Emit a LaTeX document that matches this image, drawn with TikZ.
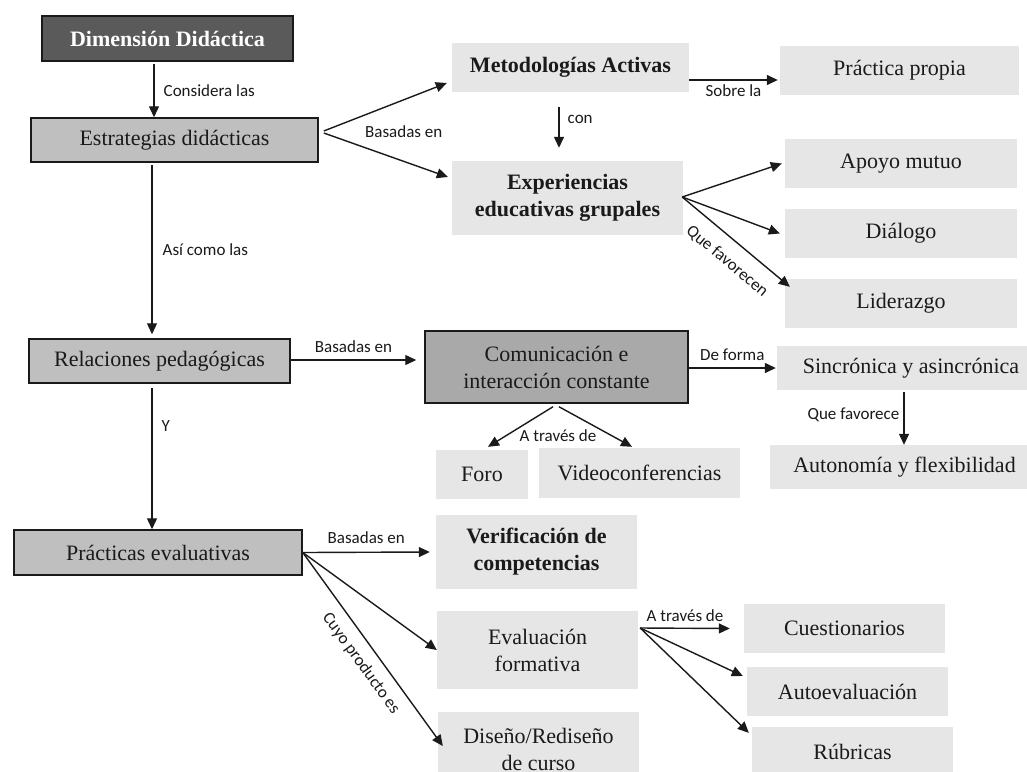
\documentclass[tikz,border=0pt]{standalone}
\usepackage{fontspec}
\setmainfont{Liberation Serif}
\newfontfamily\lblfont{Carlito}
\usetikzlibrary{arrows.meta}
\definecolor{ink}{HTML}{1A1A1A}
\definecolor{boxlight}{HTML}{E6E6E6}
\definecolor{boxmid}{HTML}{BFBFBF}
\definecolor{boxcom}{HTML}{A9A9A9}
\definecolor{boxdark}{HTML}{5A5A5A}
\begin{document}
\begin{tikzpicture}[x=1pt,y=-1pt,
  base/.style={inner sep=0pt, align=center, text=ink, font=\fontsize{22}{27}\selectfont},
  light/.style={base, fill=boxlight},
  framed/.style={base, fill=boxmid, draw=ink, line width=1.5pt},
  conn/.style={draw=ink, line width=1.4pt, -{Triangle[length=11pt,width=10pt]}},
  lbl/.style={font=\lblfont\fontsize{17}{20}\selectfont, text=ink, inner sep=1pt}
]
\useasboundingbox (0,0) rectangle (1027,771);
\clip (0,0) rectangle (1027,771);
\fill[white] (0,0) rectangle (1027,771);

% main column
\node[framed, fill=boxdark, text=white, font=\fontsize{22}{27}\selectfont\bfseries,
      minimum width=251pt, minimum height=45pt] (dim) at (167.5,38.5) {Dimensión Didáctica};
\node[framed, minimum width=287pt, minimum height=44pt] (estr) at (174.5,140) {Estrategias didácticas};
\node[framed, minimum width=261pt, minimum height=44pt] (rel) at (159.5,361) {Relaciones pedagógicas};
\node[framed, minimum width=288pt, minimum height=45pt] (prac) at (158,552.5) {Prácticas evaluativas};

% strategies branch
\node[light, font=\fontsize{22}{27}\selectfont\bfseries, minimum width=237pt, minimum height=49pt] (metod) at (570.5,67.5) {Metodologías Activas};
\node[light, minimum width=239pt, minimum height=49pt] (prop) at (899.5,70.5) {Práctica propia};
\node[light, font=\fontsize{22}{27}\selectfont\bfseries, minimum width=231pt, minimum height=74pt] (exper) at (567.5,198) {Experiencias\\educativas grupales};
\node[light, minimum width=232pt, minimum height=49pt] (apoyo) at (901,163.5) {Apoyo mutuo};
\node[light, minimum width=232pt, minimum height=49pt] (dialogo) at (901,233.5) {Diálogo};
\node[light, minimum width=232pt, minimum height=49pt] (lider) at (901,303.5) {Liderazgo};

% relations branch
\node[framed, fill=boxcom, minimum width=263pt, minimum height=72pt] (com) at (556.5,367) {Comunicación e\\interacción constante};
\node[light, minimum width=268pt, minimum height=44pt] (sinc) at (911,368) {Sincrónica y asincrónica};
\node[light, minimum width=269pt, minimum height=44pt] (auto) at (904.5,467) {Autonomía y flexibilidad};
\node[light, minimum width=92pt, minimum height=49pt] (foro) at (482,474.5) {Foro};
\node[light, minimum width=201pt, minimum height=50pt] (video) at (639.5,473) {Videoconferencias};

% evaluation branch
\node[light, font=\fontsize{22}{27}\selectfont\bfseries, minimum width=201pt, minimum height=74pt] (verif) at (536.5,552) {Verificación de\\competencias};
\node[light, minimum width=201pt, minimum height=78pt] (eval) at (537.5,650) {Evaluación\\formativa};
\node[light, minimum width=201pt, minimum height=75pt] (diseno) at (538.5,749) {Diseño/Rediseño\\de curso};
\node[light, minimum width=201pt, minimum height=49pt] (cuest) at (844.5,628.5) {Cuestionarios};
\node[light, minimum width=201pt, minimum height=49pt] (autoev) at (847.5,691.5) {Autoevaluación};
\node[light, minimum width=201pt, minimum height=49pt] (rub) at (852.5,751.5) {Rúbricas};

% vertical spine
\draw[conn] ([xshift=-13.5pt,yshift=-2pt]dim.south) -- node[lbl, right=8pt] {Considera las} ([xshift=-20.5pt]estr.north);
\draw[conn] ([xshift=-22.5pt,yshift=-2pt]estr.south) -- node[lbl, right=9pt] {Así como las} ([xshift=-7.5pt,yshift=4pt]rel.north);
\draw[conn] ([xshift=-7.5pt,yshift=-4pt]rel.south) -- node[lbl, right=8pt, pos=0.27] {Y} ([xshift=-6pt]prac.north);

% strategies
\draw[conn] ([xshift=5pt,yshift=9pt]estr.east) -- ([xshift=-5pt,yshift=-15.5pt]metod.west);
\draw[conn] ([xshift=5pt,yshift=7pt]estr.east) -- ([xshift=-4pt,yshift=21pt]exper.west);
\node[lbl] (lbbas) at ([xshift=85pt,yshift=8pt]estr.east) {Basadas en};
\draw[conn] ([yshift=-12.5pt]metod.east) -- node[lbl, below=3pt] {Sobre la} ([xshift=-2pt,yshift=-9.5pt]prop.west);
\draw[conn] ([xshift=-11.5pt,yshift=-15pt]metod.south) -- node[lbl, right=7pt, pos=0.3] {con} ([xshift=-8.5pt,yshift=13pt]exper.north);
\draw[conn] ([xshift=-1pt,yshift=1pt]exper.east) -- ([xshift=-3pt]apoyo.west);
\draw[conn] ([xshift=-1pt,yshift=1pt]exper.east) -- ([xshift=-5pt]dialogo.west);
\draw[conn] ([xshift=-1pt,yshift=1pt]exper.east) -- node[lbl, sloped, below=12pt, pos=0.54] {Que favorecen} ([xshift=5pt,yshift=-8pt]lider.north west);

% relations
\draw[conn] ([yshift=1pt]rel.east) -- node[lbl, above=6pt] {Basadas en} ([xshift=-8pt,yshift=7pt]com.west);
\draw[conn] ([yshift=-1pt]com.east) -- node[lbl, above=6pt] {De forma} ([xshift=-1pt]sinc.west);
\draw[conn] ([xshift=-3.5pt,yshift=-3pt]com.south) -- ([xshift=6pt,yshift=3pt]foro.north);
\draw[conn] ([xshift=2.5pt,yshift=-3pt]com.south) -- ([xshift=-7.5pt,yshift=1pt]video.north);
\node[lbl] (lbtrav) at ([xshift=1.5pt,yshift=-32pt]com.south) {A través de};
\draw[conn] ([xshift=-7pt,yshift=-2pt]sinc.south) -- node[lbl, left=3pt, pos=0.42] {Que favorece} ([xshift=-0.5pt]auto.north);

% evaluation
\draw[conn] (prac.east) -- node[lbl, above=7pt] {Basadas en} ([xshift=-6pt]verif.west);
\draw[conn] (prac.east) -- (eval.west);
\draw[conn] (prac.east) -- node[lbl, sloped, below=9pt, pos=0.52] {Cuyo producto es} ([xshift=5pt,yshift=3pt]diseno.west);
\draw[conn] ([xshift=2pt,yshift=22pt]eval.east) -- node[lbl, above=5pt] {A través de} ([xshift=-14pt]cuest.west);
\draw[conn] ([xshift=2pt,yshift=22pt]eval.east) -- ([xshift=-4pt,yshift=15.5pt]autoev.west);
\draw[conn] ([xshift=2pt,yshift=22pt]eval.east) -- ([xshift=-3pt,yshift=-6pt]rub.north west);
\end{tikzpicture}
\end{document}
